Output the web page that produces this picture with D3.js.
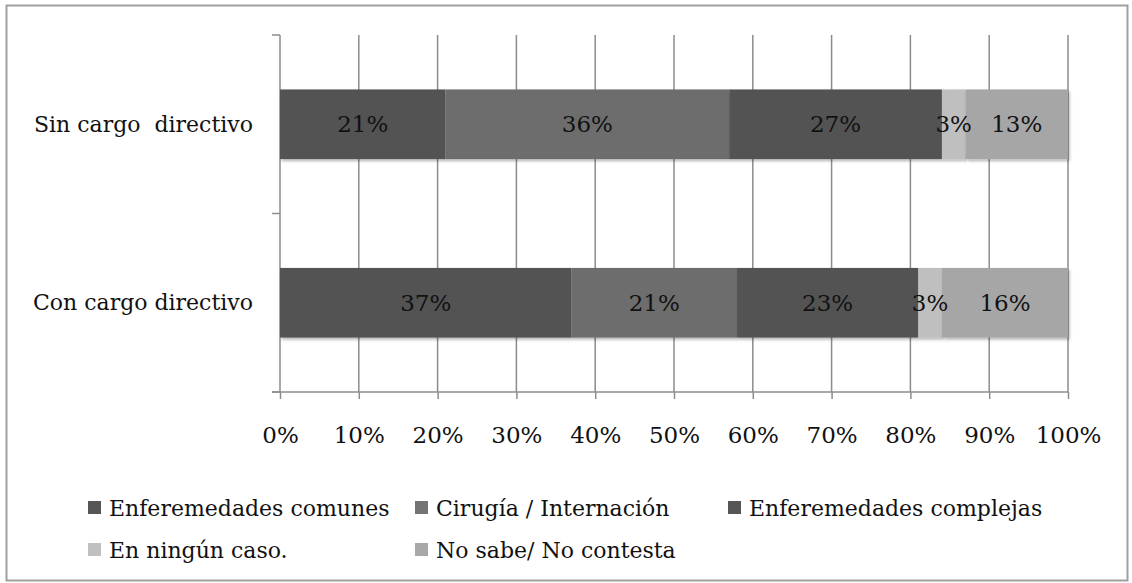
<!DOCTYPE html>
<html>
<head>
<meta charset="utf-8">
<script src="https://cdn.jsdelivr.net/npm/d3@7"></script>
<style>
  html, body { margin: 0; padding: 0; background: #fff; }
  svg { display: block; }
  text { font-family: "DejaVu Serif", "Liberation Serif", serif; fill: #111; }
</style>
</head>
<body>
<svg id="chart" width="1132" height="583"></svg>
<script>
// Categories (top to bottom) and response groups
const categories = ["Sin cargo  directivo", "Con cargo directivo"];
const seriesNames = ["Enferemedades comunes", "Cirugía / Internación", "Enferemedades complejas", "En ningún caso.", "No sabe/ No contesta"];
// Percentages per category, in series order
const sinCargo = [21, 36, 27, 3, 13];
const conCargo = [37, 21, 23, 3, 16];
const seriesColors = ["#535353", "#6d6d6d", "#535353", "#bfbfbf", "#a6a6a6"];
const legendColors = ["#555555", "#747474", "#555555", "#c0c0c0", "#a8a8a8"];
const xTicks = [0, 10, 20, 30, 40, 50, 60, 70, 80, 90, 100];

const rows = [sinCargo, conCargo].map((vals, i) => {
  const r = { category: categories[i] };
  seriesNames.forEach((s, j) => r[s] = vals[j]);
  return r;
});

const svg = d3.select("#chart");

// outer frame
svg.append("rect")
  .attr("x", 6.5).attr("y", 5.5).attr("width", 1121).attr("height", 575)
  .attr("fill", "#fff").attr("stroke", "#a0a0a0").attr("stroke-width", 2);

const defs = svg.append("defs");
const shadow = defs.append("filter").attr("id", "barShadow")
  .attr("x", "-5%").attr("y", "-20%").attr("width", "110%").attr("height", "150%");
shadow.append("feDropShadow")
  .attr("dx", 1.5).attr("dy", 2).attr("stdDeviation", 1.8)
  .attr("flood-color", "#000").attr("flood-opacity", 0.3);

const x = d3.scaleLinear().domain([0, 100]).range([280, 1068]);
const y = d3.scaleBand().domain(categories).range([35, 392]).padding(0);
const barH = y.bandwidth() * 0.39;

// vertical gridlines
svg.append("g").selectAll("line").data(xTicks.slice(1)).join("line")
  .attr("x1", d => x(d)).attr("x2", d => x(d))
  .attr("y1", 35).attr("y2", 392)
  .attr("stroke", "#8c8c8c").attr("stroke-width", 1.5);

// x axis
const xAxis = d3.axisBottom(x).tickValues(xTicks).tickSize(7).tickPadding(28)
  .tickFormat(d => d + "%");
const gx = svg.append("g").attr("transform", "translate(0,392)").call(xAxis);
gx.select(".domain").remove();
gx.append("line").attr("x1", 272).attr("x2", 1068).attr("y1", 0).attr("y2", 0)
  .attr("stroke", "#8c8c8c").attr("stroke-width", 1.5);
gx.selectAll(".tick line").attr("stroke", "#8c8c8c").attr("stroke-width", 1.5);
gx.selectAll(".tick text").attr("font-size", 23).attr("fill", "#111")
  .style("font-family", "DejaVu Serif");

// y axis line and boundary ticks
const gy = svg.append("g");
gy.append("line").attr("x1", 280).attr("x2", 280).attr("y1", 35).attr("y2", 392)
  .attr("stroke", "#8c8c8c").attr("stroke-width", 1.5);
const bounds = categories.map(c => y(c)).concat([y.range()[1]]);
gy.selectAll("line.b").data(bounds).join("line").attr("class", "b")
  .attr("x1", 272).attr("x2", 280).attr("y1", d => d).attr("y2", d => d)
  .attr("stroke", "#8c8c8c").attr("stroke-width", 1.5);
gy.selectAll("text").data(categories).join("text")
  .attr("x", 253).attr("y", d => y(d) + y.bandwidth() / 2)
  .attr("text-anchor", "end").attr("dominant-baseline", "central")
  .attr("font-size", 22).attr("xml:space", "preserve")
  .style("white-space", "pre")
  .text(d => d);

// stacked bars
const stack = d3.stack().keys(seriesNames);
const layers = stack(rows);

const barsG = svg.append("g");
layers.forEach((layer, i) => {
  barsG.append("g").selectAll("rect").data(layer).join("rect")
    .attr("x", d => x(d[0]))
    .attr("width", d => x(d[1]) - x(d[0]))
    .attr("y", d => y(d.data.category) + (y.bandwidth() - barH) / 2)
    .attr("height", barH)
    .attr("fill", seriesColors[i])
    .attr("filter", "url(#barShadow)");
});
layers.forEach((layer, i) => {
  barsG.append("g").selectAll("text").data(layer).join("text")
    .attr("x", d => (x(d[0]) + x(d[1])) / 2)
    .attr("y", d => y(d.data.category) + y.bandwidth() / 2)
    .attr("text-anchor", "middle").attr("dominant-baseline", "central")
    .attr("font-size", 23)
    .text(d => (d[1] - d[0]) + "%");
});

// legend
const legendPos = [
  { x: 88, y: 508 }, { x: 415, y: 508 }, { x: 728, y: 508 },
  { x: 88, y: 550 }, { x: 415, y: 550 }
];
const lg = svg.append("g").selectAll("g").data(seriesNames).join("g")
  .attr("transform", (d, i) => `translate(${legendPos[i].x},${legendPos[i].y})`);
lg.append("rect").attr("x", 0).attr("y", -7).attr("width", 13).attr("height", 13)
  .attr("fill", (d, i) => legendColors[i]);
lg.append("text").attr("x", 21).attr("y", 0).attr("dominant-baseline", "central")
  .attr("font-size", 22).text(d => d);
</script>
</body>
</html>
